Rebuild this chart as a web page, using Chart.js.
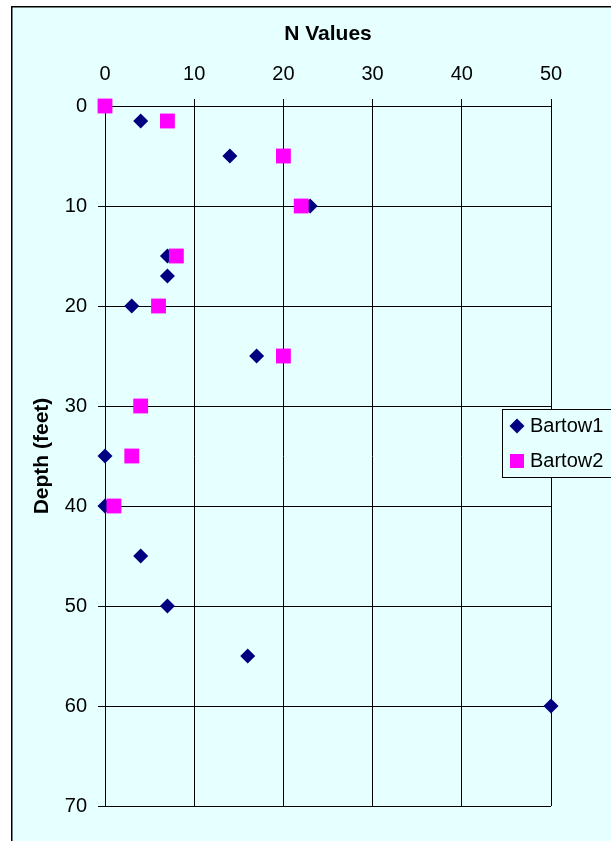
<!DOCTYPE html>
<html>
<head>
<meta charset="utf-8">
<script src="https://cdn.jsdelivr.net/npm/chart.js@4"></script>
<style>
  html, body { margin: 0; padding: 0; background: #ffffff; }
  #wrap { width: 611px; height: 841px; }
</style>
</head>
<body>
<div id="wrap"><canvas id="c" width="611" height="841"></canvas></div>
<script>
// ---- data ----
const seriesNames = ["Bartow1", "Bartow2"];
const bartow1Depth = [1.5, 5, 10, 15, 17, 20, 25, 35, 40, 45, 50, 55, 60];
const bartow1N     = [4, 14, 23, 7, 7, 3, 17, 0, 0, 4, 7, 16, 50];
const bartow2Depth = [0, 1.5, 5, 10, 15, 20, 25, 30, 35, 40];
const bartow2N     = [0, 7, 20, 22, 8, 6, 20, 4, 3, 1];
const xTicks = [0, 10, 20, 30, 40, 50];
const yTicks = [0, 10, 20, 30, 40, 50, 60, 70];
const xTitle = "N Values";
const yTitle = "Depth (feet)";

const BG = "#e6ffff";
const FONT = "'Liberation Sans', Arial, sans-serif";
const colors = ["#000080", "#ff00ff"];

function toPoints(xs, ys) { return xs.map((x, i) => ({ x: x, y: ys[i] })); }

const bgPlugin = {
  id: "bg",
  beforeDraw(chart) {
    const ctx = chart.ctx;
    ctx.save();
    ctx.fillStyle = "#ffffff";
    ctx.fillRect(0, 0, chart.width, chart.height);
    ctx.fillStyle = BG;
    ctx.fillRect(11, 6, chart.width, chart.height);
    ctx.strokeStyle = "#000000";
    ctx.lineWidth = 1.5;
    ctx.strokeRect(11.75, 6.75, chart.width + 10, chart.height + 10);
    ctx.restore();
  }
};

const legendPlugin = {
  id: "customLegend",
  afterDraw(chart) {
    const ctx = chart.ctx;
    ctx.save();
    ctx.fillStyle = BG;
    ctx.fillRect(502, 409, 120, 68);
    ctx.strokeStyle = "#000000";
    ctx.lineWidth = 1;
    ctx.strokeRect(502.5, 409.5, 120, 68);
    const ds = chart.data.datasets;
    const rows = [426, 461];
    ds.forEach((d, i) => {
      const cy = rows[i];
      const cx = 517;
      ctx.fillStyle = d.backgroundColor;
      ctx.beginPath();
      if (d.pointStyle === "rectRot") {
        ctx.moveTo(cx, cy - 7.5); ctx.lineTo(cx + 7.5, cy); ctx.lineTo(cx, cy + 7.5); ctx.lineTo(cx - 7.5, cy);
        ctx.closePath();
      } else {
        ctx.rect(cx - 7, cy - 7, 14, 14);
      }
      ctx.fill();
      ctx.fillStyle = "#000000";
      ctx.font = "20px " + FONT;
      ctx.textBaseline = "middle";
      ctx.textAlign = "left";
      ctx.fillText(d.label, 530, cy);
    });
    ctx.restore();
  }
};

new Chart(document.getElementById("c"), {
  type: "scatter",
  data: {
    datasets: [
      {
        label: seriesNames[0],
        data: toPoints(bartow1N, bartow1Depth),
        backgroundColor: colors[0],
        borderColor: colors[0],
        pointStyle: "rectRot",
        pointRadius: 7.5,
        pointBorderWidth: 0,
        pointHoverRadius: 7.5,
        order: 1,
        clip: false
      },
      {
        label: seriesNames[1],
        data: toPoints(bartow2N, bartow2Depth),
        backgroundColor: colors[1],
        borderColor: colors[1],
        pointStyle: "rect",
        pointRadius: 10.5,
        pointBorderWidth: 0,
        pointHoverRadius: 10.5,
        order: 0,
        clip: false
      }
    ]
  },
  options: {
    responsive: false,
    animation: false,
    events: [],
    layout: { padding: { left: 0, top: 0, right: 60, bottom: 35 } },
    plugins: {
      legend: { display: false },
      tooltip: { enabled: false }
    },
    scales: {
      x: {
        type: "linear",
        position: "top",
        min: xTicks[0],
        max: xTicks[xTicks.length - 1],
        afterBuildTicks(scale) { scale.ticks = xTicks.map(v => ({ value: v })); },
        afterFit(scale) { scale.height = 106; },
        ticks: { color: "#000000", font: { family: FONT, size: 20 }, padding: 13, maxRotation: 0 },
        grid: { color: "#000000", lineWidth: 1, tickLength: 7, drawTicks: true },
        border: { color: "#000000", width: 1 },
        title: { display: true, text: xTitle, color: "#000000", font: { family: FONT, size: 21, weight: "bold" }, padding: { top: 22, bottom: 0 } }
      },
      y: {
        type: "linear",
        position: "left",
        reverse: true,
        min: yTicks[0],
        max: yTicks[yTicks.length - 1],
        afterBuildTicks(scale) { scale.ticks = yTicks.map(v => ({ value: v })); },
        afterFit(scale) { scale.width = 105; },
        ticks: { color: "#000000", font: { family: FONT, size: 20 }, padding: 11 },
        grid: { color: "#000000", lineWidth: 1, tickLength: 7, drawTicks: true },
        border: { color: "#000000", width: 1 },
        title: { display: true, text: yTitle, color: "#000000", font: { family: FONT, size: 21, weight: "bold" }, padding: { top: 30, bottom: 0 } }
      }
    }
  },
  plugins: [bgPlugin, legendPlugin]
});
</script>
</body>
</html>
